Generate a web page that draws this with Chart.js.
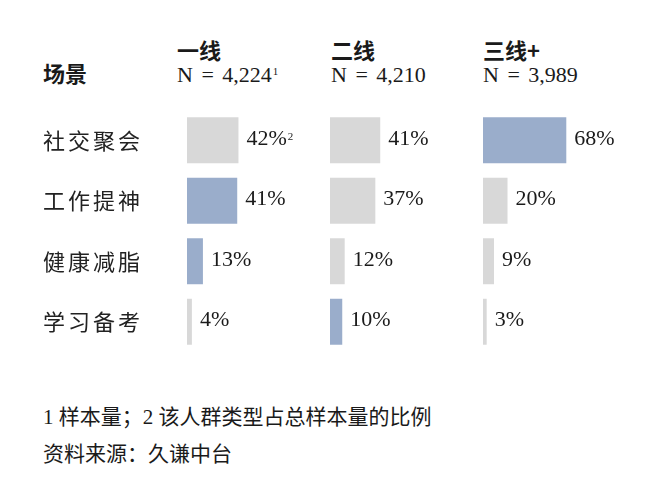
<!DOCTYPE html>
<html><head><meta charset="utf-8">
<script src="https://cdn.jsdelivr.net/npm/chart.js@4.4.1/dist/chart.umd.min.js"></script>
<style>
html,body{margin:0;padding:0;background:#fff;}
body{width:651px;height:500px;position:relative;overflow:hidden;color:#1a1a1a;}
.t{position:absolute;white-space:nowrap;line-height:1;}
.hd{font-family:"Noto Sans CJK SC";font-weight:700;font-size:22px;}
.n{font-family:"Liberation Serif";font-size:22px;word-spacing:3px;}
.n span{font-size:11px;position:relative;top:-7px;margin-left:1px;}
.fn{font-family:"Liberation Serif","Noto Sans CJK SC";font-size:21px;}
canvas{position:absolute;}
</style></head>
<body>
<script>
// ---- data ----
const rowHeader = '场景';
const categories = ['社交聚会', '工作提神', '健康减脂', '学习备考'];
const tiers = ['一线', '二线', '三线+'];
const sampleSizes = ['4,224', '4,210', '3,989'];
const sampleMarks = ['1', '', ''];
const tier1Share = [42, 41, 13, 4];
const tier2Share = [41, 37, 12, 10];
const tier3Share = [68, 20, 9, 3];
const tier1Marks = ['2', '', '', ''];
const tier2Marks = ['', '', '', ''];
const tier3Marks = ['', '', '', ''];
const footnoteLine = '1 样本量；2 该人群类型占总样本量的比例';
const sourceLine = '资料来源：久谦中台';

// ---- layout ----
const shares = [tier1Share, tier2Share, tier3Share];
const marks = [tier1Marks, tier2Marks, tier3Marks];
const GREY = '#d8d8d8', BLUE = '#9aadcb';
const panelLeft = [187, 330, 483];
const headLeft = [177, 331, 483];
const plotW = 147, xMax = 120, plotTop = 110, plotH = 242;
const labelX = 43, axisW = 144;

function addText(cls, text, x, y) {
  const d = document.createElement('div');
  d.className = 't ' + cls;
  d.textContent = text;
  d.style.left = x + 'px'; d.style.top = y + 'px';
  document.body.appendChild(d);
  return d;
}
addText('hd', rowHeader, 43, 61);
tiers.forEach((t, i) => {
  addText('hd', t, headLeft[i], 38);
  const d = addText('n', 'N = ' + sampleSizes[i], headLeft[i], 64);
  if (sampleMarks[i]) { const s = document.createElement('span'); s.textContent = sampleMarks[i]; d.appendChild(s); }
});
addText('fn', footnoteLine, 43, 407);
addText('fn', sourceLine, 43, 444);

// highlight: tier with the largest share in each row
const colorsFor = (p) => categories.map((c, r) => {
  const rowVals = shares.map(s => s[r]);
  return rowVals.indexOf(Math.max(...rowVals)) === p ? BLUE : GREY;
});

const valueLabels = {
  id: 'valueLabels',
  beforeDraw(chart) { chart.ctx.letterSpacing = '3px'; },
  afterDatasetsDraw(chart, args, opts) {
    const ctx = chart.ctx;
    const meta = chart.getDatasetMeta(0);
    const ds = chart.data.datasets[0];
    ctx.save();
    ctx.letterSpacing = '0px';
    ctx.fillStyle = '#1a1a1a';
    ctx.textAlign = 'left';
    meta.data.forEach((bar, i) => {
      const txt = ds.data[i] + '%';
      ctx.font = '22px "Liberation Serif"';
      ctx.textBaseline = 'middle';
      const x = bar.x + 8;
      ctx.fillText(txt, x, bar.y - 1.5);
      const m = opts.marks[i];
      if (m) {
        const w = ctx.measureText(txt).width;
        ctx.font = '11px "Liberation Serif"';
        ctx.textBaseline = 'alphabetic';
        ctx.fillText(m, x + w + 1, bar.y - 0.5);
      }
    });
    ctx.restore();
  },
  afterDraw(chart) { chart.ctx.letterSpacing = '0px'; }
};

shares.forEach((vals, p) => {
  const cv = document.createElement('canvas');
  const left = p === 0 ? labelX : panelLeft[p];
  const w = (p === 0 ? axisW : 0) + plotW + 20;
  cv.width = w; cv.height = plotH;
  cv.style.left = left + 'px'; cv.style.top = plotTop + 'px';
  cv.style.width = w + 'px'; cv.style.height = plotH + 'px';
  document.body.appendChild(cv);
  const yAxis = {
    display: p === 0,
    grid: { display: false }, border: { display: false },
    ticks: { crossAlign: 'far', padding: 0, color: '#222', font: { family: 'Noto Sans CJK SC', size: 22 } }
  };
  if (p === 0) yAxis.afterFit = (s) => { s.width = axisW; s.paddingTop = 0; s.paddingBottom = 0; };
  new Chart(cv, {
    type: 'bar',
    data: { labels: categories, datasets: [{ data: vals, backgroundColor: colorsFor(p), barPercentage: 0.76, categoryPercentage: 1 }] },
    options: {
      indexAxis: 'y', responsive: false, animation: false, events: [],
      layout: { padding: { left: 0, right: 20, top: 0, bottom: 0 } },
      plugins: { legend: { display: false }, tooltip: { enabled: false }, valueLabels: { marks: marks[p] } },
      scales: {
        x: { display: false, min: 0, max: xMax },
        y: yAxis
      }
    },
    plugins: [valueLabels]
  });
});
</script>
</body></html>
